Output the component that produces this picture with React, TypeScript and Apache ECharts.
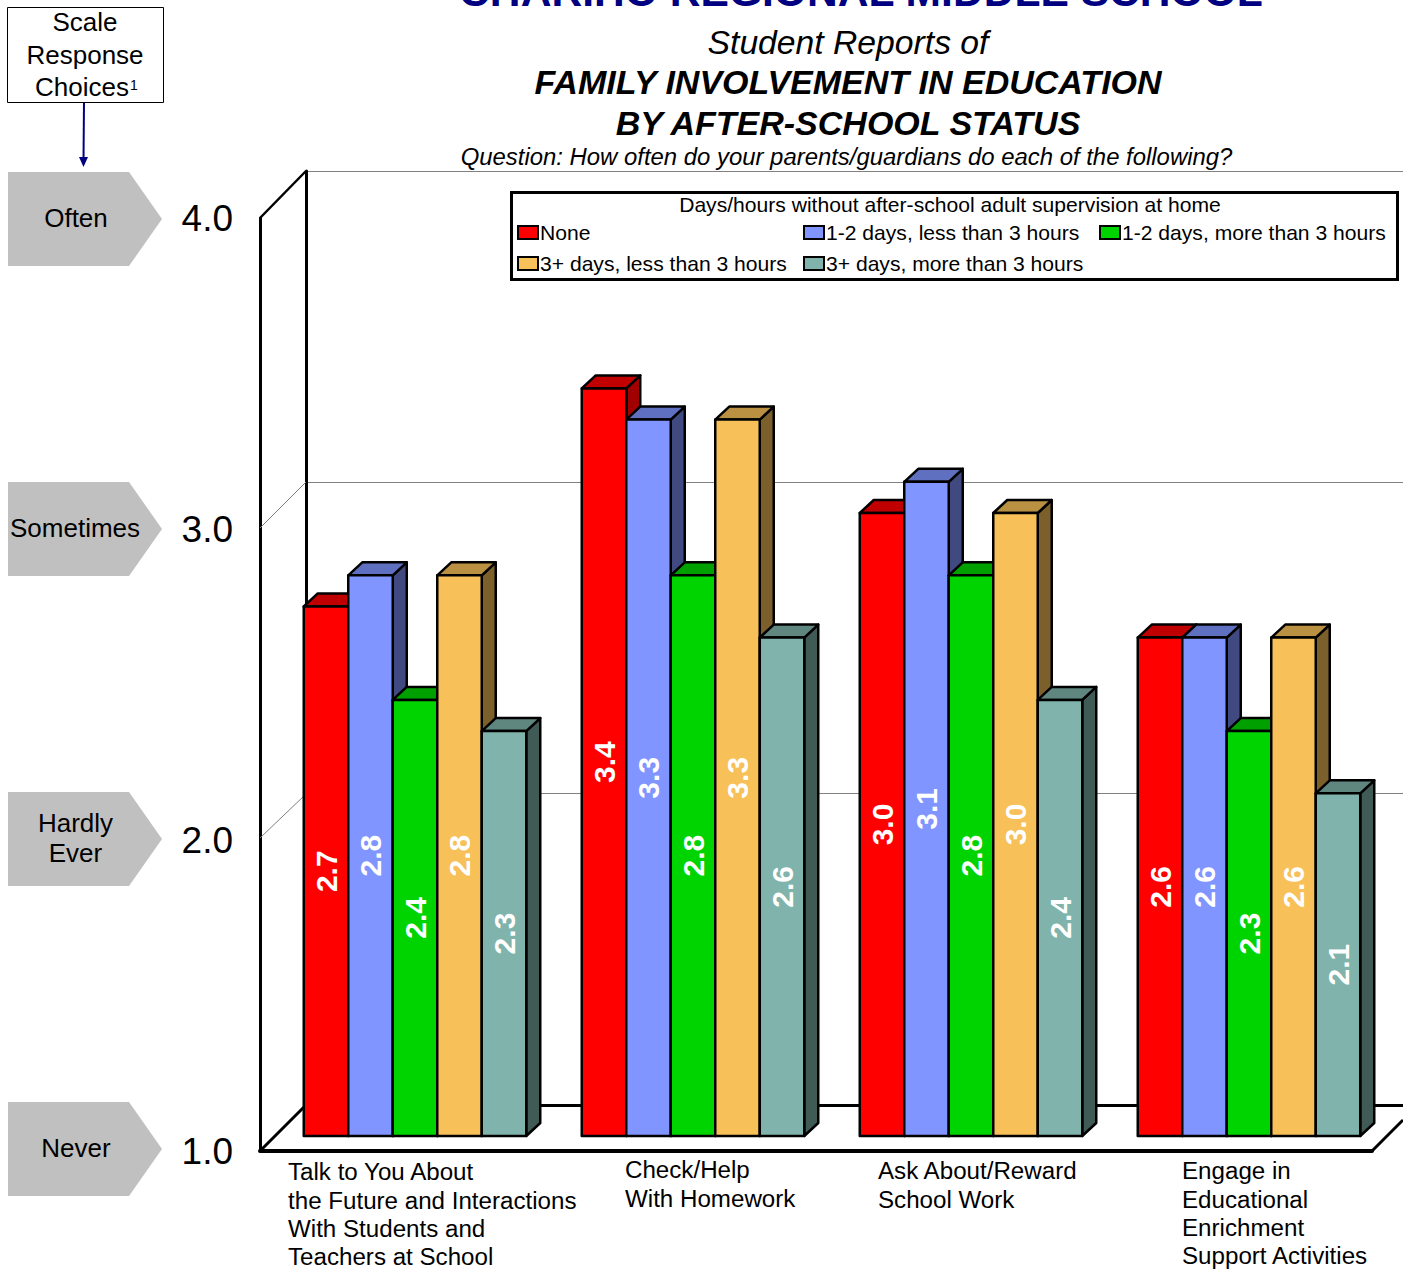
import React, { useEffect, useRef } from "react";
import * as echarts from "echarts";

const categories = [
  "Talk to You About\nthe Future and Interactions\nWith Students and\nTeachers at School",
  "Check/Help\nWith Homework",
  "Ask About/Reward\nSchool Work",
  "Engage in\nEducational\nEnrichment\nSupport Activities",
];
const seriesNames = [
  "None",
  "1-2 days, less than 3 hours",
  "1-2 days, more than 3 hours",
  "3+ days, less than 3 hours",
  "3+ days, more than 3 hours",
];
const noneValues = [2.7, 3.4, 3.0, 2.6];
const lessOneTwo = [2.8, 3.3, 3.1, 2.6];
const moreOneTwo = [2.4, 2.8, 2.8, 2.3];
const lessThreePlus = [2.8, 3.3, 3.0, 2.6];
const moreThreePlus = [2.3, 2.6, 2.4, 2.1];
const seriesValues = [noneValues, lessOneTwo, moreOneTwo, lessThreePlus, moreThreePlus];
const faceColors = ["#ff0000", "#8095ff", "#00d400", "#f8c058", "#80b3ab"];
const topColors = ["#c00000", "#6070c0", "#00a000", "#ba9042", "#608680"];
const sideColors = ["#a00000", "#404a80", "#006a00", "#7c602c", "#405a55"];
const scaleLabels = ["Often", "Sometimes", "Hardly\nEver", "Never"];
const scaleTops = [172, 482, 792, 1102];
const scaleCenters = [76, 75, 75.5, 76];
const FONT = '"Liberation Sans", Arial, sans-serif';
const labelLefts = [288, 625, 878, 1182];
const labelTops = [1157.5, 1155.5, 1156.5, 1156.5];
const legendLefts = [517, 803, 1099, 517, 803];
const legendTops = [222, 222, 222, 253, 253];

const BAR_W = 44.5;
const DX = 14;
const DY = -13;

function App() {
  const ref = useRef<HTMLDivElement>(null);
  useEffect(() => {
    const chart = echarts.init(ref.current!, null, { renderer: "svg" });
    const stroke = { stroke: "#000", lineWidth: 2.5, lineJoin: "round" };
    const series = seriesNames.map((name, si) => ({
      type: "custom",
      name,
      coordinateSystem: "cartesian2d",
      xAxisIndex: 0,
      yAxisIndex: 0,
      itemStyle: { color: faceColors[si] },
      z: 5,
      clip: false,
      data: seriesValues[si].map((v, c) => [c, v]),
      encode: { x: 0, y: 1 },
      renderItem: (_p: any, api: any) => {
        const c = api.value(0);
        const v = api.value(1);
        const top = api.coord([c, v]);
        const base = api.coord([c, 1]);
        const x0 = top[0] - (BAR_W * 5) / 2 + si * BAR_W;
        const x1 = x0 + BAR_W;
        const yt = top[1];
        const yb = base[1];
        return {
          type: "group",
          children: [
            {
              type: "polygon",
              shape: { points: [[x1, yt], [x1 + DX, yt + DY], [x1 + DX, yb + DY], [x1, yb]] },
              style: { fill: sideColors[si], ...stroke },
            },
            {
              type: "polygon",
              shape: { points: [[x0, yt], [x0 + DX, yt + DY], [x1 + DX, yt + DY], [x1, yt]] },
              style: { fill: topColors[si], ...stroke },
            },
            {
              type: "rect",
              shape: { x: x0, y: yt, width: BAR_W, height: yb - yt },
              style: { fill: faceColors[si], ...stroke },
            },
            {
              type: "text",
              x: (x0 + x1) / 2,
              y: (yt + yb) / 2,
              rotation: Math.PI / 2,
              style: {
                text: v.toFixed(1),
                fill: "#fff",
                font: `bold 30px ${FONT}`,
                align: "center",
                verticalAlign: "middle",
              },
            },
          ],
        };
      },
    }));

    const txt = (text: string, x: number, y: number, font: string, extra: any = {}) => ({
      type: "text",
      x,
      y,
      z: 10,
      style: { text, font, fill: "#000", align: "center", verticalAlign: "middle", ...extra },
    });
    const line = (x1: number, y1: number, x2: number, y2: number, color: string, w: number) => ({
      type: "line",
      z: 1,
      shape: { x1, y1, x2, y2 },
      style: { stroke: color, lineWidth: w },
    });

    const graphics: any[] = [
      txt("CHARIHO REGIONAL MIDDLE SCHOOL", 861, -9.5, `bold 42.6px ${FONT}`, { fill: "#000080" }),
      txt("Student Reports of", 848, 42, `italic 33.7px ${FONT}`),
      txt("FAMILY INVOLVEMENT IN EDUCATION", 848, 82, `italic bold 34px ${FONT}`),
      txt("BY AFTER-SCHOOL STATUS", 848, 123, `italic bold 34px ${FONT}`),
      txt("Question: How often do your parents/guardians do each of the following?", 846.5, 156, `italic 23.9px ${FONT}`),
      line(260, 218, 306, 171, "#000", 2.5),
      line(260, 528, 306, 482, "#808080", 1),
      line(260, 838, 306, 794, "#808080", 1),
      line(260, 1151, 306, 1105, "#000", 3),
      line(1372, 1151, 1403, 1120, "#000", 3),
      {
        type: "rect",
        z: 6,
        shape: { x: 511.5, y: 192.5, width: 886, height: 87 },
        style: { fill: "#fff", stroke: "#000", lineWidth: 3 },
      },
      txt("Days/hours without after-school adult supervision at home", 950, 204, `21.1px ${FONT}`),
      {
        type: "rect",
        z: 6,
        shape: { x: 7.5, y: 7.5, width: 156, height: 95 },
        style: { fill: "#fff", stroke: "#000", lineWidth: 1 },
      },
      txt("Scale", 85, 22, `26px ${FONT}`),
      txt("Response", 85, 55, `26px ${FONT}`),
      txt("Choices", 82, 87, `26px ${FONT}`),
      txt("1", 134, 85, `14px ${FONT}`),
      line(84, 102, 83.5, 160, "#000080", 2),
      {
        type: "polygon",
        z: 2,
        shape: { points: [[79, 157], [88, 157], [83.5, 167]] },
        style: { fill: "#000080" },
      },
    ];
    scaleLabels.forEach((label, i) => {
      const t = scaleTops[i];
      graphics.push({
        type: "polygon",
        z: 2,
        shape: { points: [[8, t], [129, t], [162, t + 47], [129, t + 94], [8, t + 94]] },
        style: { fill: "#c0c0c0" },
      });
      graphics.push(
        txt(label, scaleCenters[i], t + 46, `26px ${FONT}`, { lineHeight: 30 })
      );
    });
    categories.forEach((label, i) => {
      graphics.push({
        type: "text",
        x: labelLefts[i],
        y: labelTops[i],
        z: 10,
        style: { text: label, font: `24.15px ${FONT}`, fill: "#000", lineHeight: 28.4, align: "left", verticalAlign: "top" },
      });
    });

    chart.setOption({
      animation: false,
      backgroundColor: "#fff",
      grid: [
        { left: 276, top: 201.5, width: 1112, height: 934.5 },
        { left: 260, top: 218, width: 1112, height: 933 },
        { left: 306, top: 171, width: 1097, height: 934 },
      ],
      xAxis: [
        { type: "category", gridIndex: 0, data: [0, 1, 2, 3], show: false },
        {
          type: "value", gridIndex: 1, min: 0, max: 1,
          axisLine: { show: true, onZero: false, lineStyle: { color: "#000", width: 4 } },
          axisTick: { show: false }, axisLabel: { show: false }, splitLine: { show: false },
        },
        {
          type: "value", gridIndex: 2, min: 0, max: 1,
          axisLine: { show: true, onZero: false, lineStyle: { color: "#000", width: 3 } },
          axisTick: { show: false }, axisLabel: { show: false }, splitLine: { show: false },
        },
      ],
      yAxis: [
        { type: "value", gridIndex: 0, min: 1, max: 4, show: false },
        {
          type: "value", gridIndex: 1, min: 1, max: 4, interval: 1,
          axisLine: { show: true, lineStyle: { color: "#000", width: 3 } },
          axisTick: { show: false }, splitLine: { show: false },
          axisLabel: {
            color: "#000", fontFamily: FONT, fontSize: 37, margin: 27,
            formatter: (v: number) => v.toFixed(1),
          },
        },
        {
          type: "value", gridIndex: 2, min: 1, max: 4, interval: 1,
          axisLine: { show: true, lineStyle: { color: "#000", width: 3 } },
          axisTick: { show: false }, axisLabel: { show: false },
          splitLine: { show: true, lineStyle: { color: "#808080", width: 1 } },
        },
      ],
      legend: seriesNames.map((name, i) => ({
        data: [name],
        left: legendLefts[i],
        top: legendTops[i],
        padding: 0,
        z: 8,
        icon: "rect",
        itemWidth: 20,
        itemHeight: 13,
        selectedMode: false,
        itemStyle: { borderColor: "#000", borderWidth: 2 },
        textStyle: { color: "#000", fontFamily: FONT, fontSize: 21.1, padding: [0, 0, 0, -3] },
      })),
      series,
      graphic: { elements: graphics },
    });
    return () => chart.dispose();
  }, []);
  return (
    <div
      ref={ref}
      style={{ position: "fixed", left: 0, top: 0, width: 1403, height: 1269, background: "#fff" }}
    />
  );
}

export default App;
